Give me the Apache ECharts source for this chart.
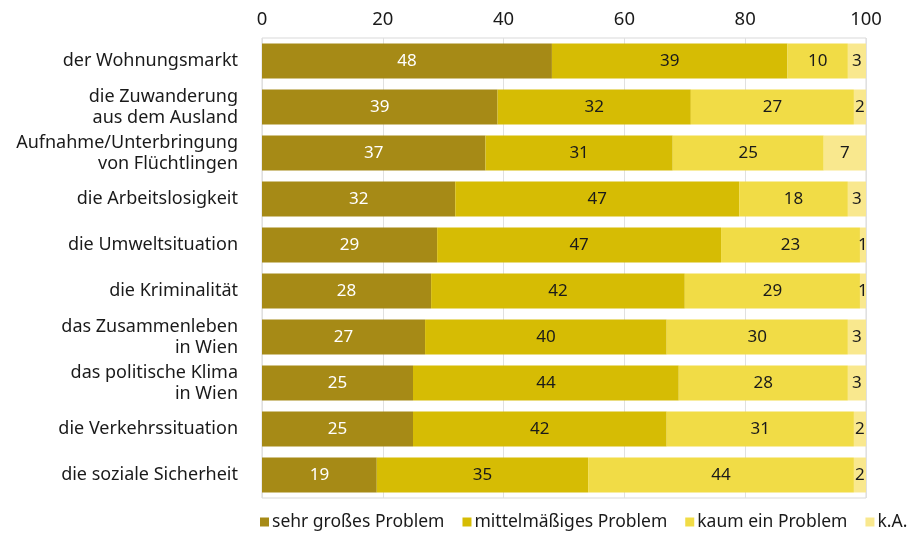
<!DOCTYPE html>
<html><head><meta charset="utf-8">
<script src="https://cdn.jsdelivr.net/npm/echarts@6/dist/echarts.min.js"></script>
<style>html,body{margin:0;padding:0;background:#fff}#c{width:910px;height:534px}</style>
</head><body><div id="c"></div>
<script>
const categories = ["der Wohnungsmarkt","die Zuwanderung\naus dem Ausland","Aufnahme/Unterbringung\nvon Flüchtlingen","die Arbeitslosigkeit","die Umweltsituation","die Kriminalität","das Zusammenleben\nin Wien","das politische Klima\nin Wien","die Verkehrssituation","die soziale Sicherheit"];
const seriesNames = ["sehr großes Problem","mittelmäßiges Problem","kaum ein Problem","k.A."];
const sehrGross = [48,39,37,32,29,28,27,25,25,19];
const mittel = [39,32,31,47,47,42,40,44,42,35];
const kaum = [10,27,25,18,23,29,30,28,31,44];
const ka = [3,2,7,3,1,1,3,3,2,2];
const xTicks = [0,20,40,60,80,100];

const colors = ["#A68A16","#D6BC04","#F1DC46","#F9E88E"];
const labelColors = ["#ffffff","#1a1a1a","#1a1a1a","#1a1a1a"];
const font = "Noto Sans";
const datasets = [sehrGross, mittel, kaum, ka];

const chart = echarts.init(document.getElementById('c'));
chart.setOption({
  animation:false,
  textStyle:{fontFamily:font},
  grid:{left:262,right:44,top:38,bottom:36,show:true,borderColor:'#d9d9d9',borderWidth:1},
  xAxis:{type:'value',position:'top',min:0,max:100,interval:20,
    axisLine:{show:false},axisTick:{show:false},
    axisLabel:{color:'#1a1a1a',fontSize:18.5,fontFamily:font,margin:9,
      formatter:v=>xTicks.includes(v)?String(v):''},
    splitLine:{lineStyle:{color:'#e0e0e0',width:1}}},
  yAxis:{type:'category',inverse:true,data:categories,
    axisLine:{show:false},axisTick:{show:false},
    axisLabel:{color:'#1a1a1a',fontSize:18,fontFamily:font,margin:24,lineHeight:21,align:'right'}},
  legend:{bottom:3,left:260,width:650,padding:0,itemWidth:9,itemHeight:9,itemGap:18,icon:'rect',
    textStyle:{fontSize:17.5,color:'#1a1a1a',fontFamily:font,padding:[0,0,0,-2]},
    data:seriesNames},
  series: seriesNames.map((n,i)=>({
    name:n,type:'bar',stack:'s',barWidth:'76%',
    data:datasets[i],
    itemStyle:{color:colors[i]},
    label:{show:true,position:'inside',color:labelColors[i],fontSize:17,fontFamily:font}
  }))
});
</script></body></html>
